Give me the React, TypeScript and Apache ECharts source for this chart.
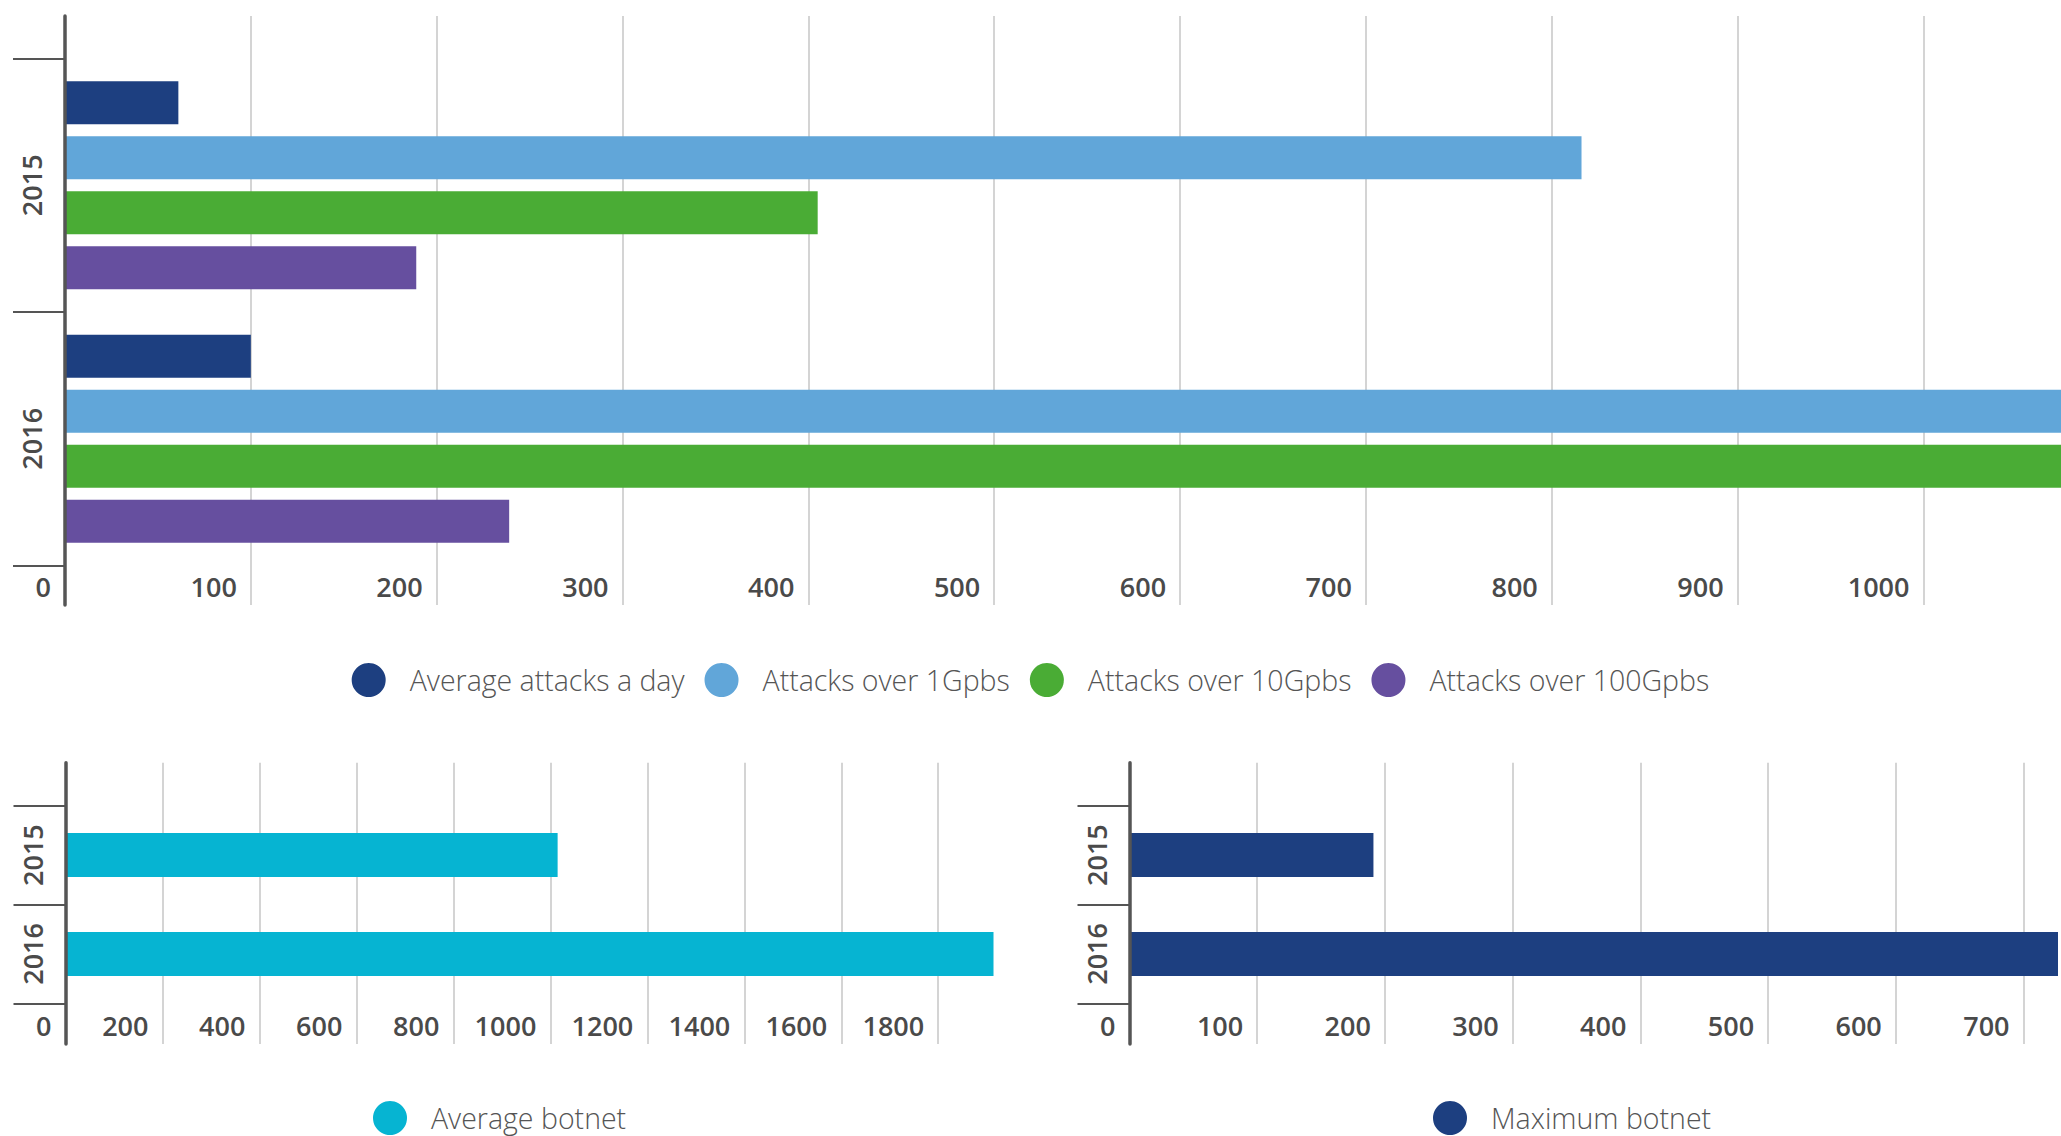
import React, { useEffect, useRef } from "react";
import * as echarts from "echarts";

// Categories
const years = ["2015", "2016"];

// DDoS attack counts per year
const attackNames = [
  "Average attacks a day",
  "Attacks over 1Gpbs",
  "Attacks over 10Gpbs",
  "Attacks over 100Gpbs",
];
const averageAttacksADay = [61, 100];
const attacksOver1Gpbs = [816, 1074];
const attacksOver10Gpbs = [405, 1074];
const attacksOver100Gpbs = [189, 239];

// Botnet sizes per year
const averageBotnet = [1015, 1914];
const maximumBotnet = [191, 727];

// Value-axis extents and labelled tick ranges
const attackAxisMax = 1074;
const attackTickStep = 100;
const attackTickLast = 1000;
const avgBotnetAxisMax = 1914;
const avgBotnetTickStep = 200;
const avgBotnetTickLast = 1800;
const maxBotnetAxisMax = 727;
const maxBotnetTickStep = 100;
const maxBotnetTickLast = 700;

const colors = {
  darkBlue: "#1d3f80",
  lightBlue: "#61a6d9",
  green: "#4aac35",
  purple: "#664f9f",
  cyan: "#06b4d2",
  axis: "#555555",
  grid: "#c6c6c6",
  text: "#4a4a4a",
  legendText: "#555555",
};

const FONT = "'Open Sans', 'Noto Sans', sans-serif";

type Panel = {
  left: number;
  width: number;
  outerTop: number;
  outerHeight: number;
  bandTop: number;
  bandHeight: number;
  axisMax: number;
  tickStep: number;
  tickLast: number;
};

function buildPanelAxes(p: Panel, gridIndex: number) {
  const pxPerUnit = p.width / p.axisMax;
  const grids = [
    // frame grid: left axis line, vertical gridlines and value labels
    {
      left: p.left,
      top: p.outerTop,
      width: p.tickLast * pxPerUnit,
      height: p.outerHeight,
      containLabel: false,
    },
    // band grid: category ticks and bars
    {
      left: p.left,
      top: p.bandTop,
      width: p.width,
      height: p.bandHeight,
      containLabel: false,
    },
  ];
  const xAxes = [
    {
      type: "value",
      gridIndex,
      min: 0,
      max: p.tickLast,
      interval: p.tickStep,
      axisLine: { show: false },
      axisTick: { show: false },
      splitLine: { show: true, lineStyle: { color: colors.grid, width: 1.5 } },
      axisLabel: {
        inside: true,
        align: "right",
        verticalAlign: "middle",
        margin: 19,
        padding: [0, 14, 0, 0],
        fontSize: 27,
        fontWeight: 600,
        fontFamily: FONT,
        color: colors.text,
        formatter: (v: number) => String(v),
      },
    },
    {
      type: "value",
      gridIndex: gridIndex + 1,
      min: 0,
      max: p.axisMax,
      show: false,
    },
  ];
  const yAxes = [
    {
      type: "value",
      gridIndex,
      min: 0,
      max: 1,
      z: 5,
      axisLine: { show: true, lineStyle: { color: colors.axis, width: 3.5 } },
      axisTick: { show: false },
      axisLabel: { show: false },
      splitLine: { show: false },
    },
    {
      type: "category",
      gridIndex: gridIndex + 1,
      data: years,
      inverse: true,
      axisLine: { show: false },
      axisTick: {
        show: true,
        length: 52,
        lineStyle: { color: colors.axis, width: 2 },
      },
      splitLine: { show: false },
      axisLabel: {
        rotate: 90,
        margin: 20,
        fontSize: 27,
        fontWeight: 600,
        fontFamily: FONT,
        color: colors.text,
      },
    },
  ];
  return { grids, xAxes, yAxes };
}

function legendFor(names: string[], left: number | string, top: number) {
  return {
    data: names,
    left,
    top,
    orient: "horizontal",
    icon: "circle",
    itemWidth: 34,
    itemHeight: 34,
    itemGap: 20,
    selectedMode: false,
    textStyle: {
      fontSize: 28.5,
      fontWeight: 300,
      fontFamily: FONT,
      color: colors.legendText,
      padding: [0, 0, 0, 19],
    },
  };
}

export default function App() {
  const ref = useRef<HTMLDivElement>(null);

  useEffect(() => {
    if (!ref.current) return;
    const chart = echarts.init(ref.current, null, { renderer: "svg" });

    const top = buildPanelAxes(
      {
        left: 65,
        width: 1996,
        outerTop: 16,
        outerHeight: 589,
        bandTop: 58.5,
        bandHeight: 507,
        axisMax: attackAxisMax,
        tickStep: attackTickStep,
        tickLast: attackTickLast,
      },
      0
    );
    const bottomLeft = buildPanelAxes(
      {
        left: 65.5,
        width: 928,
        outerTop: 762.7,
        outerHeight: 281.3,
        bandTop: 805.7,
        bandHeight: 197.6,
        axisMax: avgBotnetAxisMax,
        tickStep: avgBotnetTickStep,
        tickLast: avgBotnetTickLast,
      },
      2
    );
    const bottomRight = buildPanelAxes(
      {
        left: 1129.5,
        width: 928.5,
        outerTop: 762.7,
        outerHeight: 281.3,
        bandTop: 805.7,
        bandHeight: 197.6,
        axisMax: maxBotnetAxisMax,
        tickStep: maxBotnetTickStep,
        tickLast: maxBotnetTickLast,
      },
      4
    );

    const attackBar = (name: string, data: number[], color: string) => ({
      type: "bar",
      name,
      data,
      xAxisIndex: 1,
      yAxisIndex: 1,
      barWidth: 43,
      barGap: "28%",
      itemStyle: { color },
    });

    chart.setOption({
      animation: false,
      backgroundColor: "#ffffff",
      grid: [...top.grids, ...bottomLeft.grids, ...bottomRight.grids],
      xAxis: [...top.xAxes, ...bottomLeft.xAxes, ...bottomRight.xAxes],
      yAxis: [...top.yAxes, ...bottomLeft.yAxes, ...bottomRight.yAxes],
      legend: [
        legendFor(attackNames, "center", 658),
        legendFor(["Average botnet"], 368, 1096),
        legendFor(["Maximum botnet"], 1428, 1096),
      ],
      series: [
        attackBar(attackNames[0], averageAttacksADay, colors.darkBlue),
        attackBar(attackNames[1], attacksOver1Gpbs, colors.lightBlue),
        attackBar(attackNames[2], attacksOver10Gpbs, colors.green),
        attackBar(attackNames[3], attacksOver100Gpbs, colors.purple),
        {
          type: "bar",
          name: "Average botnet",
          data: averageBotnet,
          xAxisIndex: 3,
          yAxisIndex: 3,
          barWidth: 44,
          itemStyle: { color: colors.cyan },
        },
        {
          type: "bar",
          name: "Maximum botnet",
          data: maximumBotnet,
          xAxisIndex: 5,
          yAxisIndex: 5,
          barWidth: 44,
          itemStyle: { color: colors.darkBlue },
        },
      ],
    });

    return () => chart.dispose();
  }, []);

  return (
    <div
      ref={ref}
      style={{ position: "absolute", left: 0, top: 0, width: 2061, height: 1136 }}
    />
  );
}
